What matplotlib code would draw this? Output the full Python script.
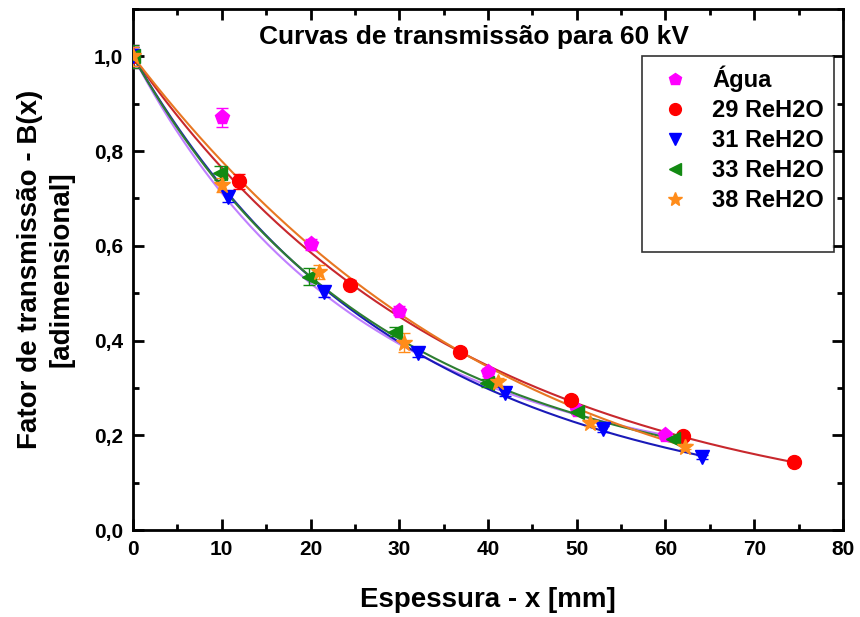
import numpy as np
import matplotlib
matplotlib.use("Agg")
import matplotlib.pyplot as plt
from matplotlib.lines import Line2D
from matplotlib.ticker import MultipleLocator, FuncFormatter

plt.rcParams["font.family"] = ["Liberation Sans", "DejaVu Sans"]
plt.rcParams["font.weight"] = "bold"

# measured transmission points (thickness in mm, B(x), uncertainty)
agua_x = [0, 10, 20, 30, 40, 50, 60]
agua_b = [1.0, 0.871, 0.603, 0.463, 0.334, 0.254, 0.201]
agua_e = [0.025, 0.02, 0.012, 0.01, 0.008, 0.008, 0.006]

re29_x = [0, 11.9, 24.5, 36.8, 49.3, 62.0, 74.5]
re29_b = [1.0, 0.736, 0.518, 0.376, 0.275, 0.199, 0.144]
re29_e = [0.02, 0.015, 0.01, 0.008, 0.006, 0.005, 0.004]

re31_x = [0, 10.7, 21.5, 32.1, 41.9, 53.0, 64.1]
re31_b = [1.0, 0.704, 0.503, 0.374, 0.290, 0.213, 0.154]
re31_e = [0.02, 0.012, 0.012, 0.008, 0.008, 0.006, 0.005]

re33_x = [0, 9.8, 19.8, 29.5, 39.9, 50.0, 60.9]
re33_b = [1.0, 0.753, 0.535, 0.419, 0.310, 0.250, 0.192]
re33_e = [0.025, 0.015, 0.018, 0.01, 0.008, 0.006, 0.005]

re38_x = [0, 10.0, 20.9, 30.5, 41.1, 51.5, 62.2]
re38_b = [1.0, 0.729, 0.545, 0.395, 0.313, 0.226, 0.176]
re38_e = [0.02, 0.015, 0.015, 0.02, 0.008, 0.006, 0.005]

# fitted curves: ln B(x) = -a*x + b*x^2
fit_agua = (0.0355, 1.45e-4)
fit_re29 = (0.02691, 1.07e-5)
fit_re31 = (0.0325, 5.57e-5)
fit_re33 = (0.03334, 1.03e-4)
fit_re38 = (0.02446, -5.45e-5)

series = [
    ("Água",      agua_x, agua_b, agua_e, fit_agua, "p", "#FF00FF", "#C080FF", 11),
    ("29 ReH2O",  re29_x, re29_b, re29_e, fit_re29, "o", "#FF0000", "#C8282D", 10),
    ("31 ReH2O",  re31_x, re31_b, re31_e, fit_re31, "v", "#0000FF", "#1A1AB8", 10),
    ("33 ReH2O",  re33_x, re33_b, re33_e, fit_re33, "<", "#128A12", "#2E7D32", 10),
    ("38 ReH2O",  re38_x, re38_b, re38_e, fit_re38, "*", "#FF8C1A", "#E87722", 12),
]


def model(x, p):
    a, b = p
    return np.exp(-a * x + b * x**2)


fig = plt.figure(figsize=(8.6, 6.17), dpi=100)
ax = fig.add_axes([0.1547, 0.141, 0.8255, 0.8444])

handles = []
for label, xs, bs, es, fit, mk, mcol, lcol, ms in series:
    xx = np.linspace(0, max(xs), 300)
    ax.plot(xx, model(xx, fit), color=lcol, lw=1.5, zorder=2)
    ax.errorbar(xs, bs, yerr=es, fmt=mk, color=mcol, ms=ms, mec=mcol,
                ecolor=mcol, elinewidth=1.0, capsize=4, capthick=1.0, zorder=3)
    handles.append(Line2D([], [], ls="none", marker=mk, color=mcol,
                          ms=ms * 0.85, label=label))
handles.append(Line2D([], [], ls="none", label=" "))

ax.set_xlim(0, 80)
ax.set_ylim(0, 1.1)
ax.xaxis.set_major_locator(MultipleLocator(10))
ax.xaxis.set_minor_locator(MultipleLocator(5))
ax.yaxis.set_major_locator(MultipleLocator(0.2))
ax.yaxis.set_minor_locator(MultipleLocator(0.1))
ax.yaxis.set_major_formatter(FuncFormatter(
    lambda v, _: f"{v:.1f}".replace(".", ",") if v <= 1.0001 else ""))
ax.tick_params(which="both", direction="in", top=True, right=True,
               labelsize=15, width=2, pad=7)
ax.tick_params(which="major", length=8)
ax.tick_params(which="minor", length=4)
for sp in ax.spines.values():
    sp.set_linewidth(2)

ax.set_xlabel("Espessura - x [mm]", fontsize=20, fontweight="bold", labelpad=20)
ax.set_ylabel("Fator de transmissão - B(x)\n[adimensional]", fontsize=20,
              fontweight="bold", labelpad=14, linespacing=1.3)
ax.text(0.48, 0.946, "Curvas de transmissão para 60 kV", transform=ax.transAxes,
        ha="center", va="center", fontsize=19, fontweight="bold")

leg = ax.legend(handles=handles, loc="upper right", bbox_to_anchor=(0.987, 0.910),
                fontsize=17, frameon=True, fancybox=False, edgecolor="black",
                labelspacing=0.3, handletextpad=0.6, borderpad=0.4,
                handlelength=2.0, borderaxespad=0)
leg.get_frame().set_linewidth(1.2)

fig.savefig("out.png", dpi=100)
